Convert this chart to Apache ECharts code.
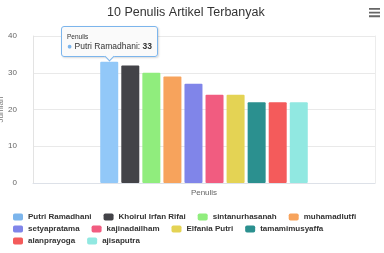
<!DOCTYPE html>
<html lang="id">
<head>
    <meta charset="UTF-8">
    <title>10 Penulis Artikel Terbanyak</title>
    <style>
        html, body { margin: 0; padding: 0; background: #fff; }
        #chart { width: 384px; height: 253px; }
    </style>
</head>
<body>
    <div id="chart"></div>
<script type="text/javascript" src="https://cdn.jsdelivr.net/npm/echarts@6/dist/echarts.min.js"></script>
<script type="text/javascript">

    // data penulis
    var penulis = ['Putri Ramadhani', 'Khoirul Irfan Rifai', 'sintanurhasanah', 'muhamadlutfi',
        'setyapratama', 'kajinadailham', 'Elfania Putri', 'tamamimusyaffa', 'alanprayoga', 'ajisaputra'];
    var jumlah = [33, 32, 30, 29, 27, 24, 24, 22, 22, 22];
    var warna = ['#7cb5ec', '#434348', '#90ed7d', '#f7a35c', '#8085e9',
        '#f15c80', '#e4d354', '#2b908f', '#f45b5b', '#91e8e1'];
    var kategori = ['Penulis'];

    var font = "'Liberation Sans', Arial, sans-serif";

    var series = [];
    for (var i = 0; i < penulis.length; i++) {
        var item = { value: jumlah[i] };
        // bar pertama sedang di-hover (lebih terang)
        if (i === 0) item.itemStyle = { color: '#92c8f8' };
        series.push({
            name: penulis[i],
            type: 'bar',
            data: [item],
            barWidth: 18,
            barGap: '17%',
            itemStyle: { color: warna[i], borderRadius: 1 },
            emphasis: { disabled: true }
        });
    }

    function legendRow(names, top) {
        return {
            data: names,
            left: 13,
            top: top,
            padding: 0,
            itemGap: 12,
            itemWidth: 10,
            itemHeight: 7,
            icon: 'roundRect',
            selectedMode: false,
            textStyle: { fontSize: 8, fontWeight: 'bold', color: '#333', fontFamily: font }
        };
    }

    var panah = '<div style="position:absolute;left:50%;bottom:-4px;width:6px;height:6px;margin-left:-4px;' +
        'background:#fafafa;border-right:1px solid #7cb5ec;border-bottom:1px solid #7cb5ec;transform:rotate(45deg);"></div>';

    var option = {
        animation: false,
        textStyle: { fontFamily: font },
        title: {
            text: '10 Penulis Artikel Terbanyak',
            left: 107,
            top: 3,
            padding: [3, 0],
            textStyle: { fontSize: 12.5, fontWeight: 'normal', color: '#333', fontFamily: font }
        },
        toolbox: {
            right: 4,
            top: 8,
            padding: 0,
            itemSize: 11,
            feature: {
                myMenu: {
                    show: true,
                    title: 'Menu',
                    icon: 'path://M0,0H12V2H0ZM0,4H12V6H0ZM0,8H12V10H0Z',
                    onclick: function () {}
                }
            },
            iconStyle: { color: '#666', borderWidth: 0 },
            emphasis: { iconStyle: { color: '#333', borderWidth: 0, textFill: 'transparent' } }
        },
        tooltip: {
            trigger: 'item',
            alwaysShowContent: true,
            transitionDuration: 0,
            backgroundColor: 'rgba(250,250,250,0.97)',
            borderColor: '#7cb5ec',
            borderWidth: 1,
            padding: [5, 5],
            textStyle: { fontSize: 8.5, color: '#333', fontFamily: font },
            extraCssText: 'border-radius:3px;box-shadow:1px 1px 2px rgba(0,0,0,0.15);line-height:10px;overflow:visible;',
            position: function (point, params, dom, rect, size) {
                return [rect.x + rect.width / 2 - size.contentSize[0] / 2, rect.y - size.contentSize[1] - 5];
            },
            formatter: function (p) {
                return '<div style="font-size:6.5px;line-height:9px">' + p.name + '</div>' +
                    '<span style="color:' + warna[p.seriesIndex] + '">\u25CF</span> ' +
                    p.seriesName + ': <b>' + p.value + '</b>' + panah;
            }
        },
        legend: [
            legendRow(penulis.slice(0, 4), 213),
            legendRow(penulis.slice(4, 8), 225),
            legendRow(penulis.slice(8, 10), 237)
        ],
        grid: { left: 33, right: 9, top: 36, bottom: 70, outerBoundsMode: 'none' },
        xAxis: {
            type: 'category',
            data: kategori,
            name: 'Penulis',
            nameLocation: 'middle',
            nameGap: 6,
            nameTextStyle: { fontSize: 8, color: '#666' },
            axisLabel: { show: false },
            axisTick: { show: false },
            axisLine: { lineStyle: { color: '#dde1e8' } }
        },
        yAxis: [{
            type: 'value',
            min: 0,
            max: 40,
            interval: 10,
            name: 'Jumlah',
            nameLocation: 'middle',
            nameGap: 28,
            nameRotate: 90,
            nameMoveOverlap: false,
            nameTextStyle: { fontSize: 8, color: '#777' },
            axisLabel: { fontSize: 8, color: '#666', margin: 16 },
            axisLine: { show: true, lineStyle: { color: '#e3e3e3' } },
            splitLine: { lineStyle: { color: '#e9e9e9' } }
        }, {
            // garis bingkai kanan
            type: 'value',
            position: 'right',
            min: 0,
            max: 40,
            interval: 10,
            axisLabel: { show: false },
            axisTick: { show: false },
            axisLine: { show: true, lineStyle: { color: '#ececec' } },
            splitLine: { show: false }
        }],
        series: series
    };

    var myChart = echarts.init(document.getElementById('chart'));
    myChart.setOption(option);
    myChart.dispatchAction({ type: 'showTip', seriesIndex: 0, dataIndex: 0 });

</script>
</body>
</html>
